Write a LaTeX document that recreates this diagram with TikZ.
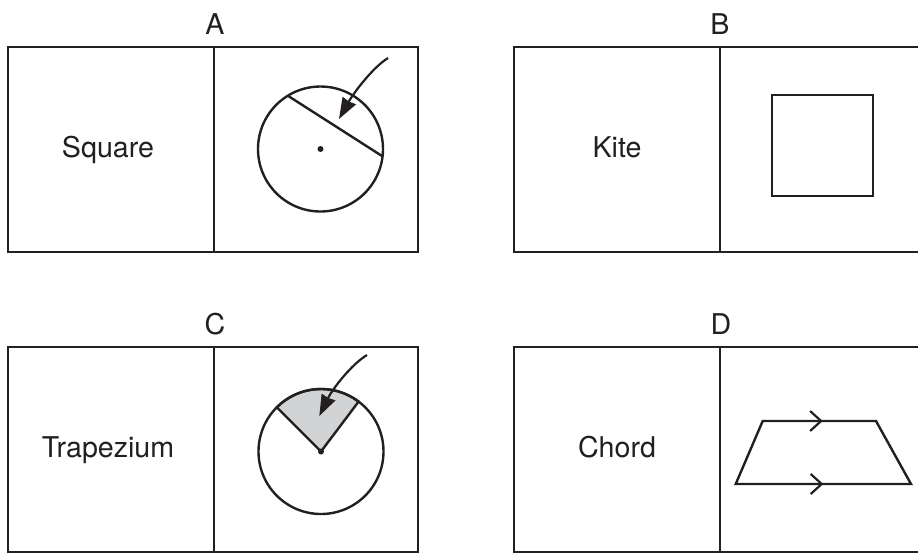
\documentclass[tikz,border=0pt]{standalone}
\usepackage{fontspec}
\setmainfont{TeX Gyre Heros}
\usepackage{xcolor}
\usetikzlibrary{arrows.meta, decorations.markings, calc}

\definecolor{ink}{HTML}{231F20}
\definecolor{shade}{HTML}{D1D3D4}

\tikzset{
  panel/.style={draw=ink, line width=1.3pt},
  figline/.style={draw=ink, line width=1.2pt},
  word/.style={anchor=base, inner sep=0pt, text=ink, font=\fontsize{14.3}{17}\selectfont},
  pointer/.style={draw=ink, line width=1.1pt, -{Stealth[length=10.5pt, width=7.5pt, inset=0.5pt]}},
  parmark/.style={postaction={decorate}, decoration={markings,
      mark=at position #1 with {\arrow[ink, line width=1.1pt]{Straight Barb[length=5.5pt, width=10pt]}}}}
}

\begin{document}
\begin{tikzpicture}[x=0.5pt, y=-0.5pt]
\useasboundingbox (0,0) rectangle (918,554);

% A
\draw[panel] (8,47) rectangle (418,252);
\draw[panel] (214,47)--(214,252);
\node[word] (labA) at (215,34) {A};
\node[word] (txtA) at (108,157) {Square};

\coordinate (cA) at (320.5,149);
\draw[figline] (cA) circle[radius=62.5];
\fill[ink] (cA) circle[radius=3];
\draw[figline] ($(cA)+(-32.7,-53.3)$)--($(cA)+(62,7.3)$);
\coordinate (startA) at (388,58);
\coordinate (tipA) at (339,119);
\draw[pointer] (startA) .. controls (372,68) and (353,94) .. (tipA);

% B
\draw[panel] (514,47) rectangle (924,252);
\draw[panel] (720,47)--(720,252);
\node[word] (labB) at (720,34) {B};
\node[word] (txtB) at (617,157) {Kite};
\draw[figline] (772,95) rectangle (873,196);

% C
\draw[panel] (8,347) rectangle (418,552);
\draw[panel] (214,347)--(214,552);
\node[word] (labC) at (215,334) {C};
\node[word] (txtC) at (108,457) {Trapezium};

\coordinate (cC) at (321,451.5);
\draw[figline, fill=shade] (cC) -- ++(-135:62.5) arc[start angle=-135, end angle=-53, radius=62.5] -- cycle;
\draw[figline] (cC) circle[radius=62.5];
\fill[ink] (cC) circle[radius=3];
\coordinate (startC) at (367,355);
\coordinate (tipC) at (319.3,416);
\draw[pointer] (startC) .. controls (352,364) and (333,388) .. (tipC);

% D
\draw[panel] (514,347) rectangle (924,552);
\draw[panel] (720,347)--(720,552);
\node[word] (labD) at (721,334) {D};
\node[word] (txtD) at (617,457) {Chord};

\draw[figline, line join=miter] (762.7,421)--(876,421)--(911,484)--(735.7,484)--cycle;
\path[parmark=0.53] (762.7,421)--(876,421);
\path[parmark=0.5] (735.7,484)--(911,484);

\end{tikzpicture}
\end{document}
